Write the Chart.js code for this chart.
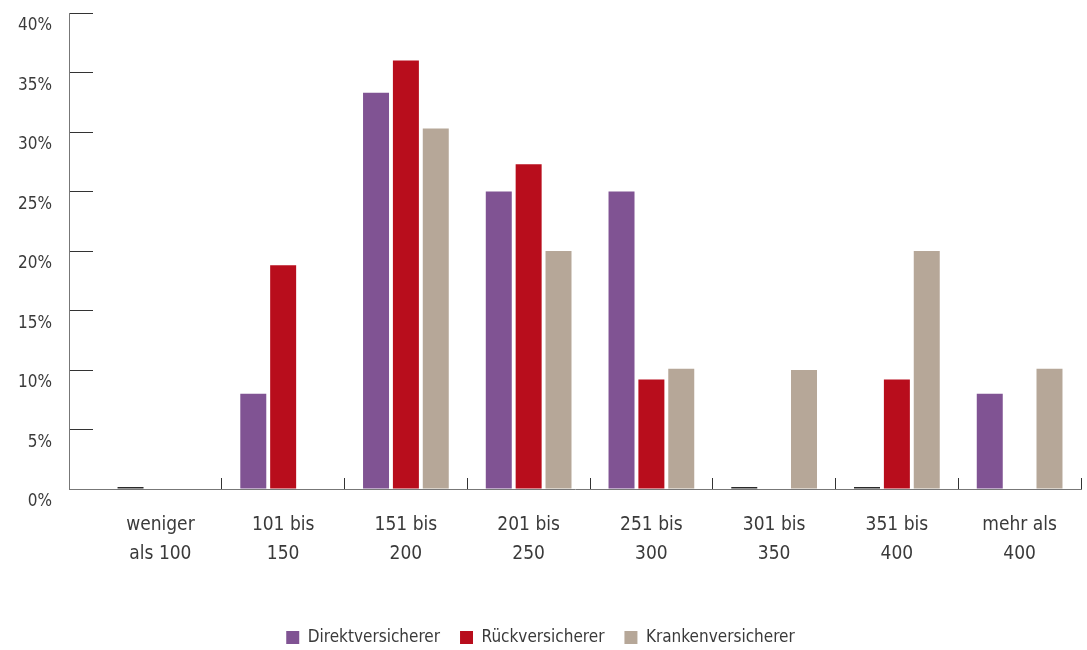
<!DOCTYPE html>
<html>
<head>
<meta charset="utf-8">
<script src="https://cdn.jsdelivr.net/npm/chart.js@4"></script>
<style>
  html, body { margin: 0; background: #fff; }
</style>
</head>
<body>
<canvas id="chart" width="1087" height="650"></canvas>
<script>
// -------------------- Daten --------------------
const categories = [
  ["weniger", "als 100"], ["101 bis", "150"], ["151 bis", "200"], ["201 bis", "250"],
  ["251 bis", "300"], ["301 bis", "350"], ["351 bis", "400"], ["mehr als", "400"]
];
const direktversicherer = [0, 8, 33.3, 25, 25, 0, 0, 8];
const rueckversicherer = [null, 18.8, 36, 27.3, 9.2, null, 9.2, null];
const krankenversicherer = [null, null, 30.3, 20, 10.1, 10, 20, 10.1];
const yTicks = [0, 5, 10, 15, 20, 25, 30, 35, 40];

const colors = ["#805393", "#b80d1c", "#b6a798"];
const FONT = "'Liberation Sans Narrow', 'DejaVu Sans Condensed', sans-serif";
const TEXT = "#3a3a3a";
const lead = 30 / 122.6; // Abstand zwischen y-Achse und erster Kategorie

// Nullwerte als dunkle Linie zeigen
const zeroColor = (base) => (ctx) => (ctx.raw === 0 ? "#2a2a2a" : base);

// Legende etwas niedriger machen, damit alles in 650px passt
const legendFit = {
  id: "legendFit",
  afterInit(chart) {
    const lg = chart.legend;
    const fit = lg.fit;
    lg.fit = function () {
      fit.call(this);
      this.height -= 10;
    };
  },
};

new Chart(document.getElementById("chart"), {
  type: "bar",
  data: {
    labels: categories,
    datasets: [
      {
        label: "Direktversicherer",
        data: direktversicherer,
        backgroundColor: zeroColor(colors[0]),
        minBarLength: 2,
      },
      {
        label: "Rückversicherer",
        data: rueckversicherer,
        backgroundColor: colors[1],
      },
      {
        label: "Krankenversicherer",
        data: krankenversicherer,
        backgroundColor: colors[2],
      },
    ],
  },
  plugins: [legendFit],
  options: {
    responsive: false,
    animation: false,
    categoryPercentage: 0.73,
    barPercentage: 0.87,
    layout: { padding: { top: 13, right: 6, bottom: 4, left: 0 } },
    scales: {
      x: {
        offset: true,
        grid: {
          offset: true,
          drawOnChartArea: false,
          tickLength: -11,
          color: (ctx) => (ctx.index === 0 ? "transparent" : "#333"),
        },
        border: { color: "#777", width: 1 },
        ticks: {
          color: TEXT,
          padding: 33,
          font: { family: FONT, size: 19, lineHeight: 1.5 },
          maxRotation: 0,
          autoSkip: false,
        },
        afterUpdate: (s) => {
          s._startValue = -0.5 - lead;
          s._valueRange = categories.length + lead;
        },
        afterFit: (s) => {
          s.height = 120;
          s.paddingLeft = 0;
          s.paddingRight = 0;
        },
      },
      y: {
        min: 0,
        max: 40,
        afterBuildTicks: (s) => { s.ticks = yTicks.map((v) => ({ value: v })); },
        grid: {
          drawOnChartArea: false,
          tickLength: -24,
          color: "#333",
        },
        border: { color: "#777", width: 1 },
        ticks: {
          color: TEXT,
          padding: 41,
          labelOffset: 13,
          font: { family: FONT, size: 17 },
          callback: (v) => v + "%",
        },
        afterFit: (s) => {
          s.width = 69;
          s.paddingTop = 0;
          s.paddingBottom = 0;
        },
      },
    },
    plugins: {
      legend: {
        position: "bottom",
        labels: {
          color: TEXT,
          boxWidth: 13,
          boxHeight: 13,
          padding: 20,
          font: { family: FONT, size: 17 },
          generateLabels: (chart) =>
            Chart.defaults.plugins.legend.labels.generateLabels(chart).map((item, i) => {
              item.fillStyle = colors[i];
              item.strokeStyle = colors[i];
              item.lineWidth = 0;
              return item;
            }),
        },
      },
      tooltip: { enabled: false },
    },
  },
});
</script>
</body>
</html>
